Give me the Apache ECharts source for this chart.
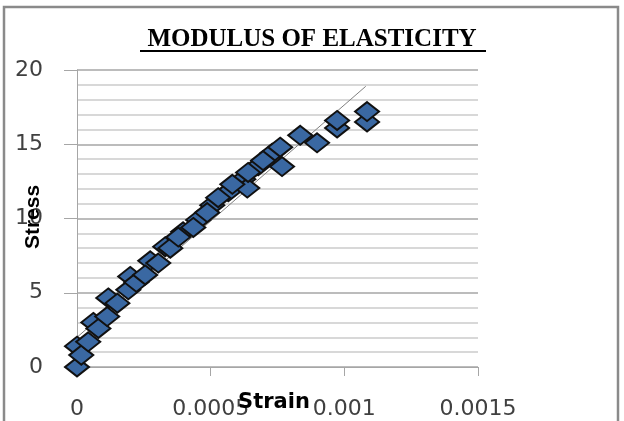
<!DOCTYPE html>
<html>
<head>
<meta charset="utf-8">
<script src="https://cdn.jsdelivr.net/npm/echarts@6/dist/echarts.min.js"></script>
<style>
  html, body { margin: 0; padding: 0; background: #fff; }
  #chart { width: 624px; height: 421px; }
</style>
</head>
<body>
<div id="chart"></div>
<script>
// main run of readings (strain, stress)
const mainStrain = [
  0, 0.000016, 0.000042, 0.00008, 0.000113, 0.000151, 0.000192, 0.000222, 0.000255, 0.000304,
  0.000349, 0.000379, 0.000435, 0.000487, 0.000528, 0.000581, 0.00064, 0.000696, 0.00076, 0.000835,
  0.000973, 0.001085
]
const mainStress = [
  0, 0.8, 1.7, 2.6, 3.4, 4.3, 5.2, 5.7, 6.2, 7.0,
  8.0, 8.75, 9.4, 10.4, 11.4, 12.3, 13.1, 13.9, 14.8, 15.6,
  16.6, 17.2
]
// readings sitting just above the main run
const upperStrain = [
  0, 0.000061, 0.000117, 0.000199, 0.000274, 0.00033, 0.000397, 0.000453, 0.000506, 0.000566,
  0.000622, 0.000678, 0.00073
]
const upperStress = [
  1.4, 3.0, 4.65, 6.1, 7.15, 8.1, 9.1, 9.9, 10.9, 11.8,
  12.65, 13.55, 14.4
]
// readings sitting just below the main run
const lowerStrain = [0.000637, 0.000767, 0.000898, 0.000973, 0.001085]
const lowerStress = [12.05, 13.5, 15.1, 16.1, 16.5]

// linear trend line end points
const trendStrain = [0, 0.00108]
const trendStress = [2.0, 18.9]

const xTickLabels = ['0', '0.0005', '0.001', '0.0015']
const yTickLabels = ['0', '5', '10', '15', '20']

const pairs = (xs, ys) => xs.map((x, i) => [x, ys[i]])

const markerStyle = {
  type: 'scatter',
  symbol: 'diamond',
  symbolSize: [24, 19],
  z: 2,
  itemStyle: { color: '#3a68a2', borderColor: '#111', borderWidth: 2, opacity: 1 },
}

const chart = echarts.init(document.getElementById('chart'))

chart.setOption({
  backgroundColor: '#fff',
  animation: false,
  title: {
    text: 'MODULUS OF ELASTICITY',
    left: 'center',
    top: 22,
    textStyle: {
      fontFamily: 'Liberation Serif',
      fontWeight: 'bold',
      fontSize: 25,
      color: '#000',
    },
  },
  grid: { left: 77, right: 146, top: 70, bottom: 54 },
  xAxis: {
    type: 'value',
    min: 0,
    max: 0.0015,
    interval: 0.0005,
    axisLine: { lineStyle: { color: '#a6a6a6', width: 1 } },
    axisTick: { show: true, length: 9, lineStyle: { color: '#a6a6a6' } },
    axisLabel: {
      margin: 31,
      fontFamily: 'DejaVu Sans',
      fontSize: 22,
      color: '#404040',
      formatter: (v, i) => xTickLabels[i],
    },
    splitLine: { show: false },
  },
  yAxis: {
    type: 'value',
    min: 0,
    max: 20,
    interval: 5,
    axisLine: { show: true, lineStyle: { color: '#a6a6a6', width: 1 } },
    axisTick: { show: true, length: 13, lineStyle: { color: '#a6a6a6' } },
    minorTick: { show: false, splitNumber: 5 },
    axisLabel: {
      margin: 34,
      fontFamily: 'DejaVu Sans',
      fontSize: 22,
      color: '#404040',
      formatter: (v, i) => yTickLabels[i],
    },
    splitLine: { show: true, lineStyle: { color: '#a6a6a6', width: 1.5 } },
    minorSplitLine: { show: true, lineStyle: { color: '#cccccc', width: 1.5 } },
  },
  series: [
    {
      type: 'line',
      data: pairs(trendStrain, trendStress),
      symbol: 'none',
      z: 1,
      lineStyle: { color: '#808080', width: 1 },
    },
    Object.assign({ data: pairs(upperStrain, upperStress) }, markerStyle),
    Object.assign({ data: pairs(lowerStrain, lowerStress) }, markerStyle),
    Object.assign({ data: pairs(mainStrain, mainStress) }, markerStyle),
  ],
  graphic: [
    {
      type: 'rect',
      shape: { x: 4, y: 7, width: 614, height: 440 },
      style: { fill: 'none', stroke: '#8a8a8a', lineWidth: 2.5 },
      silent: true,
    },
    {
      type: 'line',
      shape: { x1: 140, y1: 51, x2: 486, y2: 51 },
      style: { stroke: '#000', lineWidth: 2 },
      silent: true,
    },
    {
      type: 'text',
      x: 33,
      y: 217,
      rotation: Math.PI / 2,
      z: 100,
      style: {
        text: 'Stress',
        fontFamily: 'Liberation Sans',
        fontWeight: 'bold',
        fontSize: 21,
        fill: '#000',
        align: 'center',
        verticalAlign: 'middle',
      },
    },
    {
      type: 'text',
      x: 274,
      y: 403,
      z: 100,
      style: {
        text: 'Strain',
        fontFamily: 'DejaVu Sans',
        fontWeight: 'bold',
        fontSize: 21,
        fill: '#000',
        align: 'center',
        verticalAlign: 'middle',
      },
    },
  ],
})
</script>
</body>
</html>
